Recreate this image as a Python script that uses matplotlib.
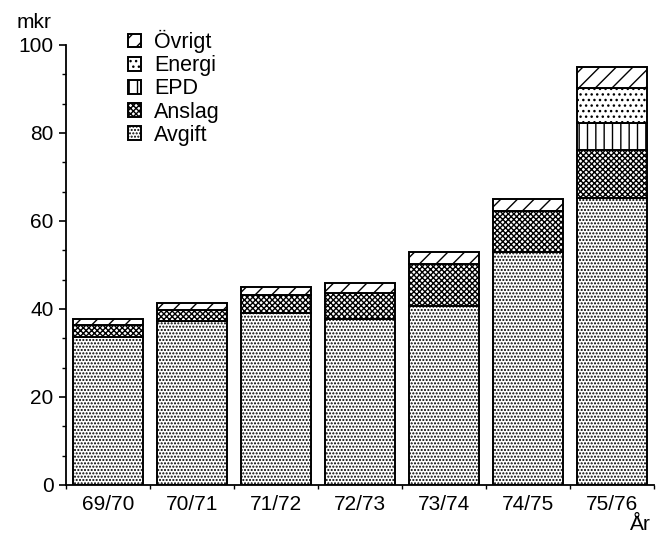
import numpy as np
import matplotlib
matplotlib.use("Agg")
import matplotlib.pyplot as plt
from matplotlib.ticker import MultipleLocator

plt.rcParams["font.family"] = ["Liberation Sans", "DejaVu Sans"]
plt.rcParams["hatch.linewidth"] = 1.0

years = ["69/70", "70/71", "71/72", "72/73", "73/74", "74/75", "75/76"]
avgift = [33.7, 37.3, 39.0, 37.7, 40.7, 53.0, 65.2]
anslag = [2.7, 2.5, 4.2, 5.9, 9.5, 9.3, 10.9]
epd = [0, 0, 0, 0, 0, 0, 6.1]
energi = [0, 0, 0, 0, 0, 0, 8.1]
ovrigt = [1.3, 1.6, 1.9, 2.2, 2.8, 2.7, 4.8]

series = [
    ("Avgift", avgift, "....."),
    ("Anslag", anslag, "xxxxxx"),
    ("EPD", epd, "||"),
    ("Energi", energi, "..."),
    ("Övrigt", ovrigt, "//"),
]

fig = plt.figure(figsize=(6.7, 5.33), dpi=100)
ax = fig.add_axes([66 / 670, 48 / 533, 588 / 670, 440 / 533])

x = np.arange(len(years))
bottom = np.zeros(len(years))
handles = []
for name, vals, hatch in series:
    vals = np.array(vals, dtype=float)
    b = ax.bar(x, vals, width=0.83, bottom=bottom, color="white",
               edgecolor="black", linewidth=1.4, hatch=hatch, label=name)
    handles.append(b)
    bottom = bottom + vals

ax.set_xlim(-0.5, len(years) - 0.5)
ax.set_ylim(0, 100)
ax.spines["top"].set_visible(False)
ax.spines["right"].set_visible(False)
ax.spines["left"].set_linewidth(1.3)
ax.spines["bottom"].set_linewidth(1.3)

ax.set_xticks(x)
ax.set_xticklabels(years)
ax.set_xticks(np.arange(len(years) + 1) - 0.5, minor=True)
ax.tick_params(axis="x", which="major", length=0, pad=7, labelsize=15)
ax.tick_params(axis="x", which="minor", length=3, width=1)

ax.yaxis.set_major_locator(MultipleLocator(20))
ax.yaxis.set_minor_locator(MultipleLocator(20 / 3))
ax.tick_params(axis="y", which="major", length=5, width=1.2, pad=4, labelsize=15)
ax.tick_params(axis="y", which="minor", length=3, width=1)

fig.text(17 / 670, 1 - 28 / 533, "mkr", fontsize=15, va="baseline")
fig.text(640 / 670, 1 - 530 / 533, "År", fontsize=15, ha="center", va="baseline")

leg = fig.legend(handles[::-1], [s[0] for s in series][::-1],
                 loc="upper left", bbox_to_anchor=(128 / 670, 1 - 30 / 533),
                 frameon=False, fontsize=15.5, handlelength=0.6, handleheight=0.6,
                 handletextpad=0.6, labelspacing=0.1, borderpad=0, borderaxespad=0)

fig.savefig("out.png", dpi=100)
